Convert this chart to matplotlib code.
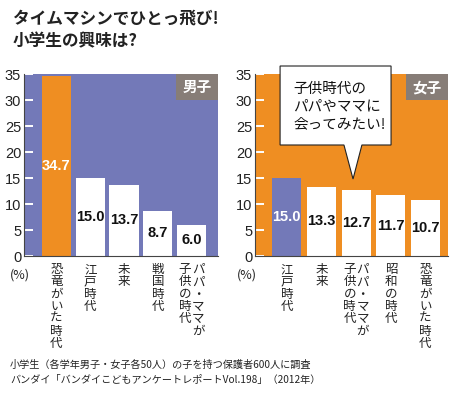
import matplotlib
matplotlib.use("Agg")
import matplotlib.pyplot as plt
from matplotlib.patches import Polygon, Rectangle
from matplotlib.transforms import blended_transform_factory, offset_copy

plt.rcParams['font.family'] = ['Noto Sans CJK JP', 'DejaVu Sans']

# ------------------------------------------------------------
# データ
# ------------------------------------------------------------
TITLE = "タイムマシンでひとっ飛び!\n小学生の興味は?"

BOYS_LABEL = "男子"
BOYS_CATS = ["恐竜がいた時代", "江戸時代", "未来", "戦国時代", "パパ・ママが\n子供の時代"]
BOYS_VALUES = [34.7, 15.0, 13.7, 8.7, 6.0]

GIRLS_LABEL = "女子"
GIRLS_CATS = ["江戸時代", "未来", "パパ・ママが\n子供の時代", "昭和の時代", "恐竜がいた時代"]
GIRLS_VALUES = [15.0, 13.3, 12.7, 11.7, 10.7]

Y_TICKS = [0, 5, 10, 15, 20, 25, 30, 35]
BUBBLE_TEXT = "子供時代の\nパパやママに\n会ってみたい!"
NOTES = ["小学生（各学年男子・女子各50人）の子を持つ保護者600人に調査",
         "バンダイ「バンダイこどもアンケートレポートVol.198」（2012年）"]

# ------------------------------------------------------------
# 色・フォント
# ------------------------------------------------------------
BLUE = "#7379b8"
ORANGE = "#ef8e22"
GRAY = "#877d77"
NUM_FONT = ["Liberation Sans Narrow", "Liberation Sans", "DejaVu Sans"]


def vertical_label(ax, x, text):
    # 縦書き: 列は右から左へ
    cols = text.split("\n")
    n = len(cols)
    base = blended_transform_factory(ax.transData, ax.transAxes)
    for j, col in enumerate(cols):
        dx = (n - 1) / 2 * 13 - j * 13
        tr = offset_copy(base, fig=ax.figure, x=dx, y=-7, units="dots")
        ax.text(x, 0, "\n".join(col), transform=tr, ha="center", va="top",
                fontsize=9, linespacing=0.93, color="#222")


def draw_panel(ax, cats, values, bg, first_color, tag, xlim, width):
    ax.set_facecolor(bg)
    x = range(len(values))
    colors = [first_color] + ["white"] * (len(values) - 1)
    ax.bar(x, values, width=width, color=colors, zorder=2)
    for i, v in enumerate(values):
        ax.text(i, v / 2, f"{v:.1f}", ha="center", va="center",
                fontsize=10.5, fontweight="bold", family=NUM_FONT,
                color="white" if i == 0 else "#111", zorder=3)
    ax.set_xlim(*xlim)
    ax.set_ylim(0, 35)
    ax.set_yticks(Y_TICKS)
    ax.set_yticklabels([str(t) for t in Y_TICKS], family=NUM_FONT, fontsize=10.5)
    ax.set_xticks([])
    ax.tick_params(axis="y", direction="in", length=6.5, width=1.4,
                   color="white", pad=2, labelcolor="#222")
    for s in ["top", "right"]:
        ax.spines[s].set_visible(False)
    for s in ["left", "bottom"]:
        ax.spines[s].set_color("#444")
        ax.spines[s].set_linewidth(0.8)
        ax.spines[s].set_zorder(4)

    for i, c in enumerate(cats):
        vertical_label(ax, i, c)

    # 男子 / 女子 のタグ
    ax.add_patch(Rectangle((0.783, 0.855), 0.217, 0.145, transform=ax.transAxes,
                           facecolor=GRAY, edgecolor="none", zorder=5))
    ax.text(0.8915, 0.927, tag, transform=ax.transAxes, ha="center", va="center",
            color="white", fontsize=10.5, fontweight="bold", zorder=6)


fig = plt.figure(figsize=(4.56, 3.96), dpi=100)

ax1 = fig.add_axes([0.0526, 0.3535, 0.4254, 0.4596])
ax2 = fig.add_axes([0.5592, 0.3535, 0.4232, 0.4596])

draw_panel(ax1, BOYS_CATS, BOYS_VALUES, BLUE, ORANGE, BOYS_LABEL, (-0.96, 4.78), 0.86)
draw_panel(ax2, GIRLS_CATS, GIRLS_VALUES, ORANGE, BLUE, GIRLS_LABEL, (-0.92, 4.65), 0.83)

ax1.text(-0.02, -0.105, "(%)", transform=ax1.transAxes, ha="center", va="center",
         fontsize=9, color="#222")
ax2.text(-0.04, -0.105, "(%)", transform=ax2.transAxes, ha="center", va="center",
         fontsize=9, color="#222")

# 吹き出し
bubble = Polygon([(0.13, 1.044), (0.705, 1.044), (0.705, 0.61), (0.554, 0.61),
                  (0.508, 0.423), (0.461, 0.61), (0.13, 0.61)],
                 closed=True, transform=ax2.transAxes, facecolor="white",
                 edgecolor="#222", linewidth=0.8, clip_on=False, zorder=7)
ax2.add_patch(bubble)
ax2.text(0.197, 0.822, BUBBLE_TEXT, transform=ax2.transAxes, ha="left", va="center",
         fontsize=10.5, linespacing=1.35, color="#111", zorder=8)

# タイトル
fig.text(0.028, 0.924, TITLE, ha="left", va="center", fontsize=12,
         fontweight="bold", linespacing=1.35, color="#222")

# 注記
fig.text(0.022, 0.078, NOTES[0], ha="left", va="center", fontsize=7.3, color="#222")
fig.text(0.022, 0.040, NOTES[1], ha="left", va="center", fontsize=7.3, color="#222")

fig.savefig("out.png", dpi=100)
